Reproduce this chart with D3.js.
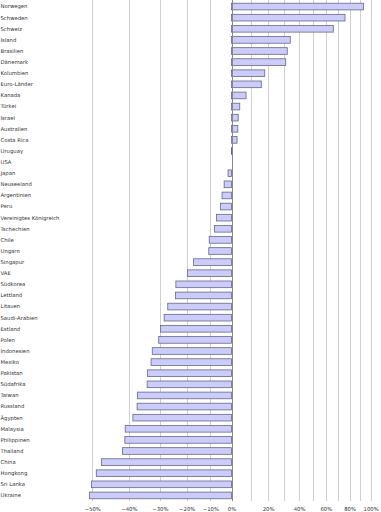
<!DOCTYPE html>
<html><head><meta charset="utf-8">
<script src="https://cdn.jsdelivr.net/npm/d3@7"></script>
<style>html,body{margin:0;padding:0;background:#fff;}svg{display:block;}</style>
</head><body>
<script>
const categories = ["Norwegen","Schweden","Schweiz","Island","Brasilien","Dänemark","Kolumbien","Euro-Länder","Kanada","Türkei","Israel","Australien","Costa Rica","Uruguay","USA","Japan","Neuseeland","Argentinien","Peru","Vereinigtes Königreich","Tschechien","Chile","Ungarn","Singapur","VAE","Südkorea","Lettland","Litauen","Saudi-Arabien","Estland","Polen","Indonesien","Mexiko","Pakistan","Südafrika","Taiwan","Russland","Ägypten","Malaysia","Philippinen","Thailand","China","Hongkong","Sri Lanka","Ukraine"];
const values = [93,76,66,34,32,31,18,16,7.5,4.2,3.4,3.2,2.8,0.3,0,-1.7,-3.6,-4.6,-5.3,-7.2,-8.1,-10.5,-10.7,-17.2,-19.7,-24.2,-24.3,-27.2,-28.5,-29.8,-30.4,-32.6,-33,-34.2,-34.3,-37.4,-37.5,-38.8,-41.1,-41.2,-41.9,-47.7,-49,-50.2,-50.7];
const gridValues = [-50,-40,-30,-20,-10,0,10,20,30,40,50,60,70,80,90,100];
const tickLabels = [-50,-40,-30,-20,-10,0,20,40,60,80,100];

(function () {
const W = 381, H = 512;
const svg = d3.select("body").append("svg").attr("width", W).attr("height", H);
const x = d3.scaleLog().domain([0.5, 2]).range([92.3, 370.7]);
const y = d3.scaleBand().domain(categories).range([1, 501]).paddingInner(0.4).paddingOuter(0.2);
const y0 = 0, y1 = 501;

svg.append("g").selectAll("line").data(gridValues.filter(v => v !== 0)).join("line")
  .attr("x1", v => Math.round(x(1 + v/100)) + 0.5).attr("x2", v => Math.round(x(1 + v/100)) + 0.5)
  .attr("y1", y0).attr("y2", y1)
  .attr("stroke", "#cfcfcf").attr("stroke-width", 1);

const data = categories.map((c, i) => ({c, v: values[i]}));
svg.append("g").selectAll("rect").data(data.filter(d => d.v !== 0)).join("rect")
  .attr("x", d => Math.min(x(1), x(1 + d.v/100)))
  .attr("width", d => Math.abs(x(1 + d.v/100) - x(1)))
  .attr("y", d => y(d.c))
  .attr("height", y.bandwidth())
  .attr("fill", "#ccccfa").attr("stroke", "#66668a").attr("stroke-width", 0.8);

svg.append("line").attr("x1", Math.round(x(1)) + 0.5).attr("x2", Math.round(x(1)) + 0.5)
  .attr("y1", y0).attr("y2", y1).attr("stroke", "#888").attr("stroke-width", 1);

svg.append("g").selectAll("text").data(categories).join("text")
  .attr("x", 0.5).attr("y", d => y(d) + y.bandwidth()/2)
  .attr("dy", "0.35em")
  .attr("font-family", "DejaVu Sans").attr("font-size", 5.3).attr("fill", "#333")
  .text(d => d);

const axis = d3.axisBottom(x).tickValues(tickLabels.map(v => 1 + v/100))
  .tickSize(0).tickPadding(0).tickFormat(v => d3.format(".0f")((v - 1) * 100) + "%");
const ag = svg.append("g").attr("transform", `translate(0,${507})`).call(axis);
ag.select(".domain").remove();
ag.selectAll("text").attr("font-family", "DejaVu Sans").attr("font-size", 5.3).attr("fill", "#333");
})();
</script>
</body></html>
